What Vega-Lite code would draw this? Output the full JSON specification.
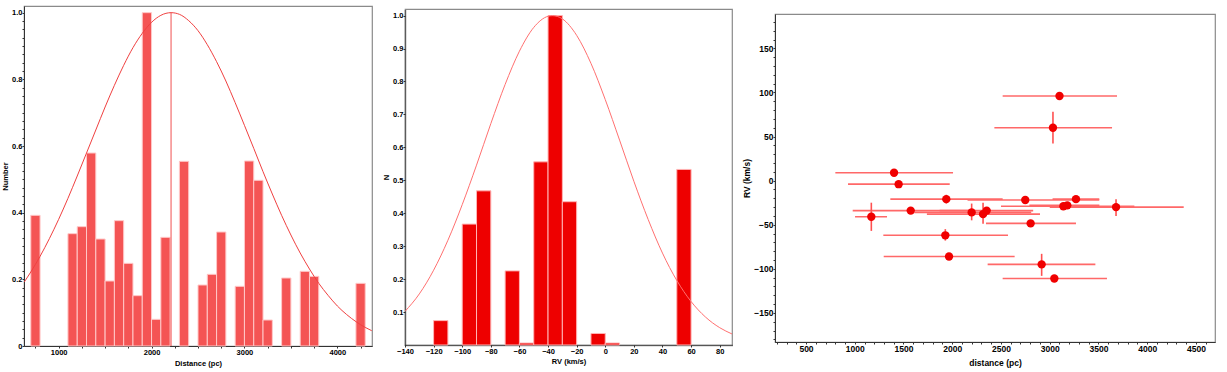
{
 "$schema": "https://vega.github.io/schema/vega-lite/v6.json",
 "padding": {"left": 0, "top": 5, "right": 0, "bottom": 0},
 "background": "white",
 "spacing": 8,
 "datasets": {
  "distBars": [
   {"x":700,"x2":800,"y":0.392},{"x":1100,"x2":1200,"y":0.337},{"x":1200,"x2":1300,"y":0.358},{"x":1300,"x2":1400,"y":0.579},{"x":1400,"x2":1500,"y":0.321},{"x":1500,"x2":1600,"y":0.195},{"x":1600,"x2":1700,"y":0.376},{"x":1700,"x2":1800,"y":0.248},{"x":1800,"x2":1900,"y":0.151},{"x":1900,"x2":2000,"y":1.0},{"x":2000,"x2":2100,"y":0.08},{"x":2100,"x2":2200,"y":0.326},{"x":2300,"x2":2400,"y":0.554},{"x":2500,"x2":2600,"y":0.183},{"x":2600,"x2":2700,"y":0.215},{"x":2700,"x2":2800,"y":0.342},{"x":2900,"x2":3000,"y":0.179},{"x":3000,"x2":3100,"y":0.555},{"x":3100,"x2":3200,"y":0.497},{"x":3200,"x2":3300,"y":0.078},{"x":3400,"x2":3500,"y":0.204},{"x":3600,"x2":3700,"y":0.224},{"x":3700,"x2":3800,"y":0.209},{"x":4200,"x2":4300,"y":0.188}
  ],
  "distCurve": [
   {"x":630,"y":0.192},{"x":700,"y":0.222},{"x":800,"y":0.269},{"x":900,"y":0.322},{"x":1000,"y":0.38},{"x":1100,"y":0.443},{"x":1200,"y":0.51},{"x":1300,"y":0.579},{"x":1400,"y":0.648},{"x":1500,"y":0.717},{"x":1600,"y":0.782},{"x":1700,"y":0.842},{"x":1800,"y":0.895},{"x":1900,"y":0.938},{"x":2000,"y":0.971},{"x":2100,"y":0.992},{"x":2210,"y":1.0},{"x":2300,"y":0.995},{"x":2400,"y":0.976},{"x":2500,"y":0.946},{"x":2600,"y":0.904},{"x":2700,"y":0.853},{"x":2800,"y":0.795},{"x":2900,"y":0.73},{"x":3000,"y":0.662},{"x":3100,"y":0.593},{"x":3200,"y":0.523},{"x":3300,"y":0.456},{"x":3400,"y":0.392},{"x":3500,"y":0.333},{"x":3600,"y":0.279},{"x":3700,"y":0.231},{"x":3800,"y":0.188},{"x":3900,"y":0.152},{"x":4000,"y":0.12},{"x":4100,"y":0.0944},{"x":4200,"y":0.0731},{"x":4300,"y":0.0558},{"x":4370,"y":0.0459}
  ],
  "rvBars": [
   {"x":-120,"x2":-110,"y":0.074},{"x":-100,"x2":-90,"y":0.367},{"x":-90,"x2":-80,"y":0.468},{"x":-70,"x2":-60,"y":0.225},{"x":-60,"x2":-50,"y":0.006},{"x":-50,"x2":-40,"y":0.556},{"x":-40,"x2":-30,"y":1.0},{"x":-30,"x2":-20,"y":0.435},{"x":-10,"x2":0,"y":0.035},{"x":0,"x2":10,"y":0.006},{"x":50,"x2":60,"y":0.533}
  ],
  "rvCurve": [
   {"x":-140,"y":0.102},{"x":-130,"y":0.155},{"x":-120,"y":0.227},{"x":-110,"y":0.318},{"x":-100,"y":0.426},{"x":-90,"y":0.546},{"x":-80,"y":0.672},{"x":-70,"y":0.791},{"x":-60,"y":0.892},{"x":-50,"y":0.964},{"x":-40,"y":0.998},{"x":-37,"y":1.0},{"x":-30,"y":0.99},{"x":-20,"y":0.94},{"x":-10,"y":0.855},{"x":0,"y":0.745},{"x":10,"y":0.622},{"x":20,"y":0.497},{"x":30,"y":0.381},{"x":40,"y":0.279},{"x":50,"y":0.196},{"x":60,"y":0.132},{"x":70,"y":0.0851},{"x":80,"y":0.0526},{"x":88.6,"y":0.0335}
  ],
  "stars": [
   {"d":3100,"rv":96,"dlo":2517,"dhi":3690,"rvlo":96,"rvhi":96},
   {"d":3033,"rv":60,"dlo":2432,"dhi":3639,"rvlo":42,"rvhi":78},
   {"d":1403,"rv":9,"dlo":801,"dhi":2008,"rvlo":9,"rvhi":9},
   {"d":1450,"rv":-4,"dlo":931,"dhi":1974,"rvlo":-4,"rvhi":-4},
   {"d":1939,"rv":-21,"dlo":1365,"dhi":2517,"rvlo":-26,"rvhi":-16},
   {"d":2749,"rv":-22,"dlo":2157,"dhi":3508,"rvlo":-22,"rvhi":-22},
   {"d":3269,"rv":-21,"dlo":3029,"dhi":3508,"rvlo":-21,"rvhi":-21},
   {"d":3140,"rv":-29,"dlo":2500,"dhi":3868,"rvlo":-29,"rvhi":-29},
   {"d":3180,"rv":-28,"dlo":2791,"dhi":3509,"rvlo":-28,"rvhi":-28},
   {"d":3680,"rv":-30,"dlo":3000,"dhi":4374,"rvlo":-40,"rvhi":-21},
   {"d":1574,"rv":-34,"dlo":979,"dhi":2200,"rvlo":-34,"rvhi":-34},
   {"d":1170,"rv":-41,"dlo":1003,"dhi":1331,"rvlo":-57,"rvhi":-25},
   {"d":2199,"rv":-36,"dlo":1610,"dhi":2810,"rvlo":-45,"rvhi":-26},
   {"d":2316,"rv":-38,"dlo":1740,"dhi":2900,"rvlo":-49,"rvhi":-25},
   {"d":2353,"rv":-34,"dlo":1870,"dhi":2830,"rvlo":-34,"rvhi":-34},
   {"d":2804,"rv":-48.5,"dlo":2346,"dhi":3269,"rvlo":-48.5,"rvhi":-48.5},
   {"d":1929,"rv":-62,"dlo":1293,"dhi":2572,"rvlo":-68,"rvhi":-55},
   {"d":1967,"rv":-86,"dlo":1297,"dhi":2640,"rvlo":-86,"rvhi":-86},
   {"d":2917,"rv":-95,"dlo":2363,"dhi":3468,"rvlo":-108,"rvhi":-83},
   {"d":3047,"rv":-111,"dlo":2517,"dhi":3587,"rvlo":-111,"rvhi":-111}
  ]
 },
 "config": {
  "font": "Liberation Sans",
  "view": {"stroke": "#8a8a8a", "strokeWidth": 1.2},
  "axis": {"labelFont": "Liberation Sans", "labelFontWeight": "bold", "titleFont": "Liberation Sans", "titleFontWeight": "bold", "grid": false, "domainColor": "#333333", "tickColor": "#333333", "labelColor": "#000000", "titleColor": "#000000", "tickSize": 2, "labelPadding": 0, "titlePadding": 2, "labelFontSize": 7.5, "titleFontSize": 7.5, "labelOverlap": false, "labelFlush": false}
 },
 "hconcat": [
  {
   "width": 348, "height": 340,
   "layer": [
    {
     "data": {"name": "distBars"},
     "mark": {"type": "rect", "color": "#f45454", "stroke": "#ffc8c8", "strokeWidth": 1},
     "encoding": {
      "x": {"field": "x", "type": "quantitative", "title": "Distance (pc)", "scale": {"domain": [627, 4373], "nice": false, "zero": false},
       "axis": {"tickCount": 1000, "titlePadding": 4, "values": [750,1000,1250,1500,1750,2000,2250,2500,2750,3000,3250,3500,3750,4000,4250], "labelExpr": "datum.value % 1000 == 0 ? format(datum.value, 'd') : ''"}},
      "x2": {"field": "x2"},
      "y": {"field": "y", "type": "quantitative", "title": "Number", "scale": {"domain": [0, 1.02], "nice": false},
       "axis": {"tickCount": 1000, "values": [0,0.025,0.05,0.075,0.1,0.125,0.15,0.175,0.2,0.225,0.25,0.275,0.3,0.325,0.35,0.375,0.4,0.425,0.45,0.475,0.5,0.525,0.55,0.575,0.6,0.625,0.65,0.675,0.7,0.725,0.75,0.775,0.8,0.825,0.85,0.875,0.9,0.925,0.95,0.975,1.0], "labelExpr": "abs(datum.value*5 - round(datum.value*5)) < 0.001 ? (datum.value == 0 ? '0' : format(datum.value, '.1f')) : ''"}},
      "y2": {"datum": 0}
     }
    },
    {
     "data": {"values": [{"x": 2210, "y": 0, "y2": 1.0}]},
     "mark": {"type": "rule", "color": "#f05050", "strokeWidth": 1},
     "encoding": {
      "x": {"field": "x", "type": "quantitative", "title": "Distance (pc)"},
      "y": {"field": "y", "type": "quantitative", "title": "Number"},
      "y2": {"field": "y2"}
     }
    },
    {
     "data": {"name": "distCurve"},
     "mark": {"type": "line", "color": "#f04040", "strokeWidth": 1, "clip": true, "interpolate": "monotone"},
     "encoding": {
      "x": {"field": "x", "type": "quantitative", "title": "Distance (pc)"},
      "y": {"field": "y", "type": "quantitative", "title": "Number"}
     }
    }
   ]
  },
  {
   "spacing": 9,
   "hconcat": [
    {
     "spacing": 0,
     "vconcat": [
      {
       "width": 1, "height": 1.5,
       "view": {"stroke": null},
       "data": {"values": [{"a": 0}]},
       "mark": {"type": "rule", "opacity": 0},
       "encoding": {}
      },
      {
       "width": 327, "height": 336,
       "layer": [
        {
         "data": {"name": "rvBars"},
         "mark": {"type": "rect", "color": "#ee0000", "stroke": "#ffb4b4", "strokeWidth": 1},
         "encoding": {
          "x": {"field": "x", "type": "quantitative", "title": "RV (km/s)", "scale": {"domain": [-140, 88.6], "nice": false, "zero": false},
           "axis": {"tickCount": 1000, "titlePadding": 3, "values": [-140,-120,-100,-80,-60,-40,-20,0,20,40,60,80], "format": "d", "domainDash": [1, 1], "domainWidth": 1.6, "domainColor": "#222222"}},
          "x2": {"field": "x2"},
          "y": {"field": "y", "type": "quantitative", "title": "N", "scale": {"domain": [0, 1.02], "nice": false},
           "axis": {"tickCount": 1000, "values": [0.1,0.2,0.3,0.4,0.5,0.6,0.7,0.8,0.9,1.0], "format": ".1f", "domainDash": [1, 1], "domainWidth": 1.6, "domainColor": "#222222"}},
          "y2": {"datum": 0}
         }
        },
        {
         "data": {"name": "rvCurve"},
         "mark": {"type": "line", "color": "#ff7070", "strokeWidth": 1, "clip": true, "interpolate": "monotone"},
         "encoding": {
          "x": {"field": "x", "type": "quantitative", "title": "RV (km/s)"},
          "y": {"field": "y", "type": "quantitative", "title": "N"}
         }
        }
       ]
      }
     ]
    },
    {
     "spacing": 0,
     "vconcat": [
      {
       "width": 1, "height": 6.5,
       "view": {"stroke": null},
       "data": {"values": [{"a": 0}]},
       "mark": {"type": "rule", "opacity": 0},
       "encoding": {}
      },
      {
       "width": 440, "height": 328,
       "layer": [
        {
         "data": {"name": "stars"},
         "mark": {"type": "rule", "color": "#ff6868", "strokeWidth": 1.6},
         "encoding": {
          "x": {"field": "dlo", "type": "quantitative", "title": "distance (pc)", "scale": {"domain": [182, 4695], "nice": false, "zero": false},
           "axis": {"tickCount": 1000, "values": [200,300,400,500,600,700,800,900,1000,1100,1200,1300,1400,1500,1600,1700,1800,1900,2000,2100,2200,2300,2400,2500,2600,2700,2800,2900,3000,3100,3200,3300,3400,3500,3600,3700,3800,3900,4000,4100,4200,4300,4400,4500,4600], "labelExpr": "datum.value % 500 == 0 ? format(datum.value, 'd') : ''", "labelFontSize": 8.5, "titleFontSize": 8.5, "titlePadding": 6}},
          "x2": {"field": "dhi"},
          "y": {"field": "rv", "type": "quantitative", "title": "RV (km/s)", "scale": {"domain": [-183, 189], "nice": false, "zero": false},
           "axis": {"tickCount": 1000, "values": [-180,-170,-160,-150,-140,-130,-120,-110,-100,-90,-80,-70,-60,-50,-40,-30,-20,-10,0,10,20,30,40,50,60,70,80,90,100,110,120,130,140,150,160,170,180], "labelExpr": "datum.value % 50 == 0 ? format(datum.value, 'd') : ''", "labelFontSize": 8.5, "titleFontSize": 8.5}}
         }
        },
        {
         "data": {"name": "stars"},
         "mark": {"type": "rule", "color": "#ff5050", "strokeWidth": 1.6},
         "encoding": {
          "x": {"field": "d", "type": "quantitative", "title": "distance (pc)"},
          "y": {"field": "rvlo", "type": "quantitative", "title": "RV (km/s)"},
          "y2": {"field": "rvhi"}
         }
        },
        {
         "data": {"name": "stars"},
         "mark": {"type": "point", "shape": "circle", "filled": true, "color": "#f00000", "size": 70, "opacity": 1},
         "encoding": {
          "x": {"field": "d", "type": "quantitative", "title": "distance (pc)"},
          "y": {"field": "rv", "type": "quantitative", "title": "RV (km/s)"}
         }
        }
       ]
      }
     ]
    }
   ]
  }
 ]
}
